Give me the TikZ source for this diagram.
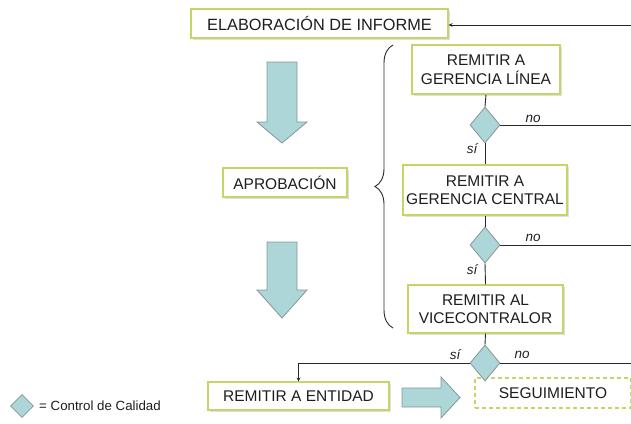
\documentclass[tikz,border=0pt]{standalone}
\usepackage{fontspec}
\setmainfont{Liberation Sans}
\usetikzlibrary{shapes.geometric,arrows.meta,decorations.pathreplacing,shadows}
\definecolor{boxedge}{RGB}{198,212,104}
\definecolor{qfill}{RGB}{172,214,216}
\definecolor{qedge}{RGB}{135,150,152}
\definecolor{txt}{RGB}{30,30,30}
\definecolor{lin}{RGB}{40,40,40}
\tikzset{
  pbox/.style={draw=boxedge, line width=1.1pt, fill=white, align=center, inner sep=0pt,
    text=txt, font=\fontsize{15.5}{18.5}\selectfont,
    drop shadow={shadow xshift=1.5pt, shadow yshift=-1.5pt, fill=black!35, opacity=0.35}},
  qc/.style={diamond, draw=qedge, line width=0.8pt, fill=qfill, inner sep=0pt,
    minimum width=30pt, minimum height=36pt},
  yn/.style={font=\fontsize{13.5}{15}\selectfont\itshape, text=txt, inner sep=0pt},
  conn/.style={draw=lin, line width=0.9pt},
  barrow/.style={draw=qedge, line width=0.8pt, fill=qfill},
}
\begin{document}
\begin{tikzpicture}[x=1pt,y=-1pt]
\useasboundingbox (0,0) rectangle (631,423);
% boxes
\node[pbox, minimum width=257pt, minimum height=29pt, font=\fontsize{16.3}{19}\selectfont] (elab) at (319.5,23.5) {ELABORACIÓN DE INFORME};
\node[pbox, minimum width=124pt, minimum height=29pt] (aprob) at (285,182.5) {APROBACIÓN};
\node[pbox, minimum width=148pt, minimum height=49pt] (g1) at (486,69.5) {REMITIR A\\GERENCIA LÍNEA};
\node[pbox, minimum width=164pt, minimum height=50pt] (g2) at (485,190) {REMITIR A\\GERENCIA CENTRAL};
\node[pbox, minimum width=155pt, minimum height=48pt] (g3) at (485.5,309) {REMITIR AL\\VICECONTRALOR};
\node[pbox, minimum width=181pt, minimum height=28pt] (ent) at (298.5,396) {REMITIR A ENTIDAD};
\node[draw=boxedge, line width=1.1pt, dash pattern=on 4pt off 3pt, fill=white, inner sep=0pt,
  text=txt, font=\fontsize{15.5}{18.5}\selectfont, minimum width=156pt, minimum height=30pt] (seg) at (553,393) {SEGUIMIENTO};
% decisions
\node[qc] (d1) at (485,125) {};
\node[qc] (d2) at (485,245) {};
\node[qc] (d3) at (485,363) {};
% legend
\node[qc, minimum width=23pt, minimum height=23pt] (leg) at (22,406) {};
\node[anchor=west, inner sep=0pt, text=txt, font=\fontsize{13.3}{15}\selectfont] (legt) at (39,406) {= Control de Calidad};
% right edge coordinates
\coordinate (in) at (631,25);
\coordinate (r1) at (631,125);
\coordinate (r2) at (631,245);
\coordinate (r3) at (631,363);
% connectors
\draw[conn, -{Stealth[length=4pt,width=4pt]}] (in) -- (in -| elab.east);
\draw[conn] (g1.south) -- (d1.north);
\draw[conn] (d1.south) -- (g2.north);
\draw[conn] (g2.south) -- (d2.north);
\draw[conn] (d2.south) -- (g3.north);
\draw[conn] (g3.south) -- (d3.north);
\draw[conn] (d1.east) -- (r1);
\draw[conn] (d2.east) -- (r2);
\draw[conn] (d3.east) -- (r3);
\draw[conn, -{Stealth[length=4pt,width=4pt]}] (d3.west) -| (ent.north);
% labels
\node[yn] (no1) at (533,119) {no};
\node[yn] (si1) at (472,149) {sí};
\node[yn] (no2) at (533,238) {no};
\node[yn] (si2) at (472,270) {sí};
\node[yn] (si3) at (455,355) {sí};
\node[yn] (no3) at (522,355) {no};
% brace
\draw[draw=lin, line width=0.9pt, decorate, decoration={brace, amplitude=18pt}] (393,328) -- (393,45);
% block arrows
\filldraw[barrow] (267,62) -- (297,62) -- (297,122) -- (307,122) -- (282,143) -- (257,122) -- (267,122) -- cycle;
\filldraw[barrow] (267,242) -- (297,242) -- (297,290) -- (307,290) -- (282,318) -- (257,290) -- (267,290) -- cycle;
\filldraw[barrow] (402,388) -- (441,388) -- (441,377) -- (460,397.5) -- (441,418) -- (441,407) -- (402,407) -- cycle;
\end{tikzpicture}
\end{document}
